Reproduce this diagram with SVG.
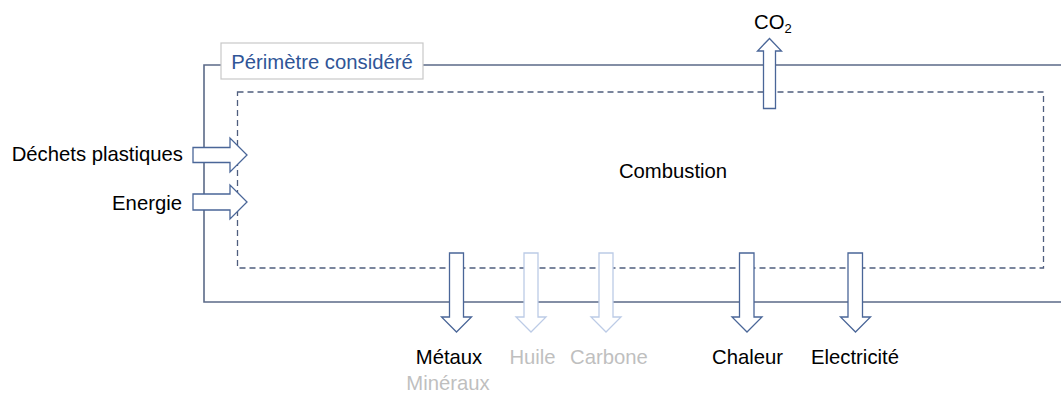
<svg xmlns="http://www.w3.org/2000/svg" width="1061" height="393" viewBox="0 0 1061 393">
<style>
text{font-family:"Liberation Sans",Arial,sans-serif;font-size:20.3px;fill:#000}
.outer{fill:none;stroke:#5B6A88;stroke-width:1.6}
.dash{fill:none;stroke:#4F5E7E;stroke-width:1.3;stroke-dasharray:6,4}
.arr{fill:#fff;stroke:#4A6698;stroke-width:1.3}
.arrL{fill:#fff;stroke:#BCCBE6;stroke-width:1.3}
.gray{fill:#BFBFBF}
</style>
<rect width="1061" height="393" fill="#fff"/>
<g id="perimetre">
<polyline class="outer" points="1062,65 204,65 204,302 1062,302"/>
<rect x="221" y="43" width="202" height="36" fill="#fff" stroke="#C8C8C8" stroke-width="1.2"/>
<text x="322" y="69" text-anchor="middle" style="fill:#2F5597">Périmètre considéré</text>
</g>
<g id="combustion">
<rect class="dash" x="237.5" y="92" width="806" height="176"/>
<text x="673" y="178" text-anchor="middle">Combustion</text>
</g>
<g id="connectors">
<path class="arr" d="M763.5,108.5 V51 H757.5 L769.5,38.5 L781.5,51 H775.5 V108.5 Z"/>
<path class="arr" d="M193,147.5 H230 V138 L247,155 L230,172 V162.5 H193 Z"/>
<path class="arr" d="M193,194 H230 V185 L247,202 L230,219 V210 H193 Z"/>
<path class="arr" d="M449.5,253 H463.5 V317 H471.5 L456.5,332 L441.5,317 H449.5 Z"/>
<path class="arrL" d="M524,253 H538 V317 H546 L531,332 L516,317 H524 Z"/>
<path class="arrL" d="M599,253 H613 V317 H621 L606,332 L591,317 H599 Z"/>
<path class="arr" d="M739.5,253 H754 V317 H762 L747,332 L732,317 H739.5 Z"/>
<path class="arr" d="M848,253 H862.5 V317 H870.5 L855.5,332 L840.5,317 H848 Z"/>
</g>
<g id="co2"><text x="754" y="29">CO<tspan font-size="13" dy="3.5">2</tspan></text></g>
<g id="dechets"><text x="183" y="161" text-anchor="end">Déchets plastiques</text></g>
<g id="energie"><text x="182" y="210" text-anchor="end">Energie</text></g>
<g id="metaux"><text x="449" y="363.5" text-anchor="middle">Métaux</text>
<text x="448" y="390" text-anchor="middle" class="gray">Minéraux</text></g>
<g id="huile"><text x="532.5" y="363.5" text-anchor="middle" class="gray">Huile</text></g>
<g id="carbone"><text x="609" y="363.5" text-anchor="middle" class="gray">Carbone</text></g>
<g id="chaleur"><text x="747.5" y="363.5" text-anchor="middle">Chaleur</text></g>
<g id="electricite"><text x="855" y="363.5" text-anchor="middle">Electricité</text></g>
</svg>
